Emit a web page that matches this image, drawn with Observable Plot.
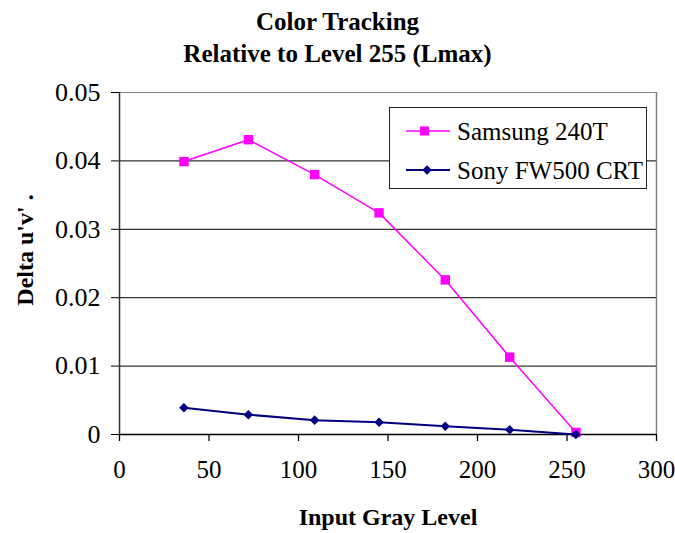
<!DOCTYPE html>
<html>
<head>
<meta charset="utf-8">
<script src="https://cdn.jsdelivr.net/npm/d3@7"></script>
<script src="https://cdn.jsdelivr.net/npm/@observablehq/plot@0.6"></script>
<style>
  html, body { margin: 0; padding: 0; background: #fff; }
  #wrap { position: relative; width: 675px; height: 533px; font-family: "Liberation Serif", "Times New Roman", serif; color: #000; overflow: hidden; }
  #title { position: absolute; left: 0; top: 6px; width: 675px; text-align: center; font-weight: bold; font-size: 25px; line-height: 32px; }
  #chart { position: absolute; left: 0; top: 75px; }
  #ytitle { position: absolute; left: 25px; top: 250px; transform: translate(-50%, -50%) rotate(-90deg); white-space: nowrap; font-weight: bold; font-size: 24px; line-height: 28px; }
  #xtitle { position: absolute; left: 0; width: 776px; top: 503px; text-align: center; font-weight: bold; font-size: 24px; line-height: 28px; }
  #legend { position: absolute; left: 0; top: 0; pointer-events: none; }
</style>
</head>
<body>
<div id="wrap">
  <div id="title"></div>
  <div id="chart"></div>
  <div id="ytitle"></div>
  <div id="xtitle"></div>
  <svg id="legend" width="675" height="533"></svg>
</div>
<script>
// ---- data ----
const titleLines = ["Color Tracking", "Relative to Level 255 (Lmax)"];
const xAxisTitle = "Input Gray Level";
const yAxisTitle = "Delta u'v' .";
const grayLevels = [36, 72, 109, 145, 182, 218, 255];
const samsungValues = [0.0399, 0.0431, 0.0380, 0.0324, 0.0226, 0.0113, 0.0003];
const sonyValues = [0.0039, 0.0029, 0.0021, 0.0018, 0.0012, 0.0007, 0.0000];
const seriesNames = ["Samsung 240T", "Sony FW500 CRT"];
const seriesColors = ["#FF00FF", "#000080"];
const xTicks = [0, 50, 100, 150, 200, 250, 300];
const xTickLabels = ["0", "50", "100", "150", "200", "250", "300"];
const yTicks = [0, 0.01, 0.02, 0.03, 0.04, 0.05];
const yTickLabels = ["0", "0.01", "0.02", "0.03", "0.04", "0.05"];

// ---- build ----
document.getElementById("title").innerHTML = titleLines.map(t => `<div>${t}</div>`).join("");
document.getElementById("xtitle").textContent = xAxisTitle;
document.getElementById("ytitle").textContent = yAxisTitle;

const samsung = grayLevels.map((x, i) => ({x, y: samsungValues[i]}));
const sony = grayLevels.map((x, i) => ({x, y: sonyValues[i]}));

const chart = Plot.plot({
  width: 675,
  height: 458,
  marginTop: 17,
  marginBottom: 99,
  marginLeft: 119,
  marginRight: 19,
  style: {fontFamily: "'Liberation Serif', 'Times New Roman', serif", fontSize: "25px", color: "#000", background: "#fff", overflow: "visible"},
  x: {domain: [0, 300]},
  y: {domain: [0, 0.05]},
  marks: [
    Plot.ruleY(yTicks.slice(1, -1), {stroke: "#000", strokeWidth: 1}),
    Plot.ruleY([yTicks[yTicks.length - 1]], {stroke: "#808080", strokeWidth: 1}),
    Plot.ruleX([xTicks[xTicks.length - 1]], {stroke: "#808080", strokeWidth: 1.5}),
    Plot.axisX({ticks: xTicks, tickFormat: (d, i) => xTickLabels[i], tickSize: 7, tickPadding: 19, label: null, stroke: "#000", strokeWidth: 1.3, fontSize: 25}),
    Plot.axisY({ticks: yTicks, tickFormat: (d, i) => yTickLabels[i], tickSize: 8, tickPadding: 11, label: null, stroke: "#000", strokeWidth: 1, fontSize: 26}),
    Plot.ruleX([xTicks[0]], {stroke: "#333", strokeWidth: 1.5}),
    Plot.ruleY([yTicks[0]], {stroke: "#000", strokeWidth: 1.5}),
    Plot.line(samsung, {x: "x", y: "y", stroke: seriesColors[0], strokeWidth: 1.5}),
    Plot.dot(samsung, {x: "x", y: "y", symbol: "square", r: 5.3, fill: seriesColors[0], stroke: null}),
    Plot.line(sony, {x: "x", y: "y", stroke: seriesColors[1], strokeWidth: 2}),
    Plot.dot(sony, {x: "x", y: "y", symbol: "square", rotate: 45, r: 3.8, fill: seriesColors[1], stroke: null})
  ]
});
document.getElementById("chart").appendChild(chart);

// ---- legend ----
const lg = d3.select("#legend");
lg.append("rect").attr("x", 389.5).attr("y", 107.5).attr("width", 257).attr("height", 81)
  .attr("fill", "#fff").attr("stroke", "#222").attr("stroke-width", 1);
const rowsY = [131, 170];
seriesNames.forEach((name, i) => {
  const y = rowsY[i];
  lg.append("line").attr("x1", 406).attr("x2", 450).attr("y1", y).attr("y2", y)
    .attr("stroke", seriesColors[i]).attr("stroke-width", i === 0 ? 1.5 : 2);
  if (i === 0) {
    lg.append("rect").attr("x", 424.5 - 4.5).attr("y", y - 4.5).attr("width", 9).attr("height", 9).attr("fill", seriesColors[i]);
  } else {
    lg.append("path").attr("d", d3.symbol(d3.symbolSquare, 45)()).attr("transform", `translate(427,${y}) rotate(45)`).attr("fill", seriesColors[i]);
  }
  lg.append("text").attr("x", 457).attr("y", y + 9).attr("font-size", 25)
    .attr("font-family", "'Liberation Serif', 'Times New Roman', serif").attr("fill", "#000").text(name);
});
</script>
</body>
</html>
